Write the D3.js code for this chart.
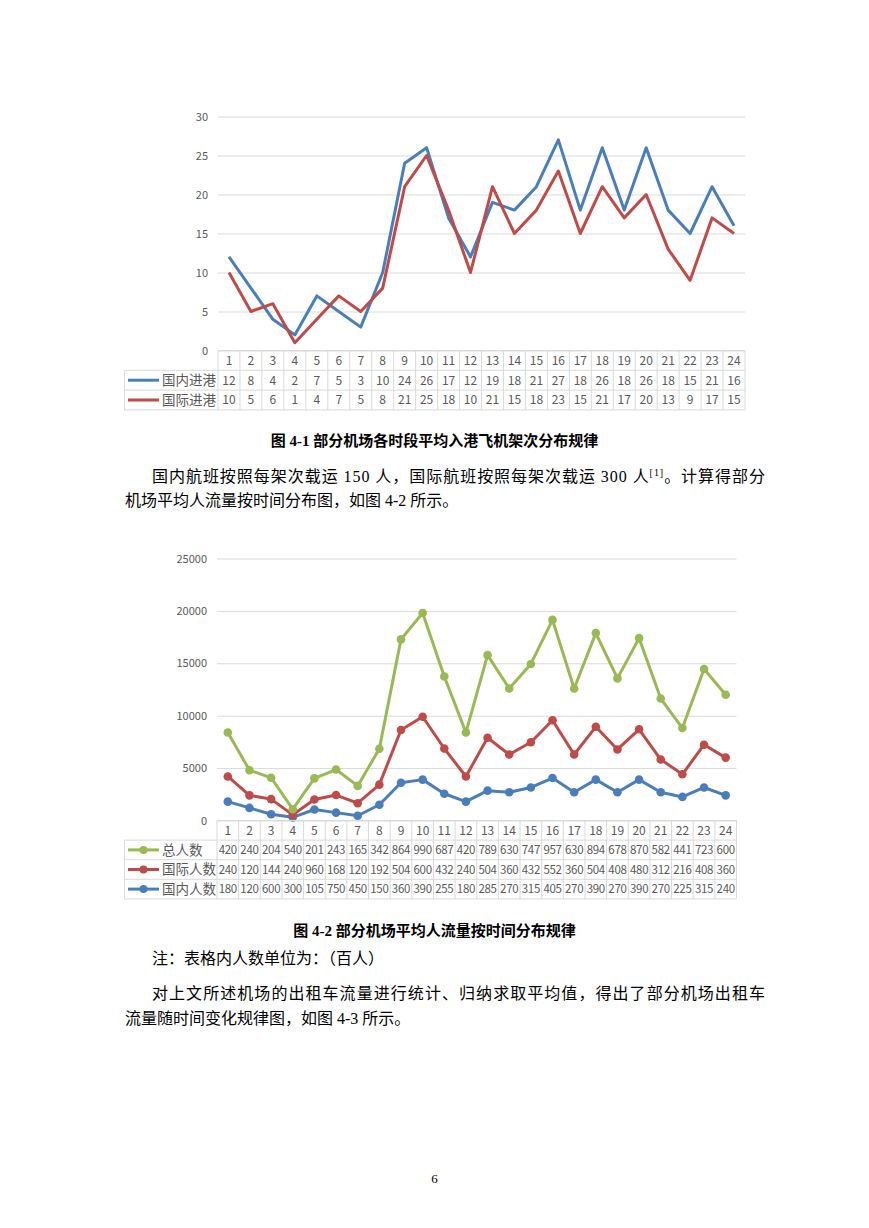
<!DOCTYPE html>
<html>
<head>
<meta charset="utf-8">
<script src="https://cdn.jsdelivr.net/npm/d3@7"></script>
<style>
  body { margin: 0; background: #fff; }
  .grid line { stroke: #d9d9d9; }
  .grid text { fill: #595959; font-size: 11px; font-family: "Noto Sans CJK SC", "Noto Sans", sans-serif; }
  .cell { fill: #595959; font-size: 12px; font-family: "Noto Sans CJK SC", "Noto Sans", sans-serif; }
  .body-text { font-size: 16px; font-family: "Liberation Serif", "Noto Sans CJK SC", serif; fill: #000; }
  .caption { font-size: 15px; font-weight: bold; font-family: "Liberation Serif", "Noto Sans CJK SC", serif; fill: #000; }
</style>
</head>
<body>
<div id="page"></div>
<script>
// hours 1..24
var hours = [1,2,3,4,5,6,7,8,9,10,11,12,13,14,15,16,17,18,19,20,21,22,23,24]

// chart 4-1: arriving flights per hour
var domesticFlights = [12,8,4,2,7,5,3,10,24,26,17,12,19,18,21,27,18,26,18,26,18,15,21,16]
var intlFlights = [10,5,6,1,4,7,5,8,21,25,18,10,21,15,18,23,15,21,17,20,13,9,17,15]
var flightTicks = [0,5,10,15,20,25,30]

// chart 4-2: passengers per hour (stacked line chart in the original)
var domesticPax = [1800,1200,600,300,1050,750,450,1500,3600,3900,2550,1800,2850,2700,3150,4050,2700,3900,2700,3900,2700,2250,3150,2400]
var intlPax = [2400,1200,1440,240,960,1680,1200,1920,5040,6000,4320,2400,5040,3600,4320,5520,3600,5040,4080,4800,3120,2160,4080,3600]
var totalPax = [4200,2400,2040,540,2010,2430,1650,3420,8640,9900,6870,4200,7890,6300,7470,9570,6300,8940,6780,8700,5820,4410,7230,6000]
var paxTicks = [0,5000,10000,15000,20000,25000]

var blue = '#4a7ebb', red = '#be4b48', green = '#98b954'
var width = 869, height = 1228

var svg = d3.select("#page")
  .append("svg")
  .attr("width", width)
  .attr("height", height)

svg.append('rect')
  .attr('width', width)
  .attr('height', height)
  .attr('fill', '#fff')

// draws gridlines + y labels, returns nothing
function drawGrid(g, x, y, ticks, fmt) {
  g.append("g")
    .attr("class", "grid")
    .attr("transform", `translate(${x.range()[0]},0)`)
    .call(d3.axisLeft(y)
      .tickValues(ticks)
      .tickSize(-(x.range()[1] - x.range()[0]))
      .tickPadding(8)
      .tickFormat(fmt))
    .call(a => a.select(".domain").remove())
    .selectAll(".tick text")
    .attr("dx", -2)
}

// Excel style data table under the plot
function drawTable(g, x, top, rowH, rows) {
  var left = 124.5, right = x.range()[1]
  var x0 = x.range()[0]
  var bottom = top + rowH * (rows.length + 1)
  var t = g.append('g').attr('class', 'table')

  // horizontal borders
  t.append('line')
    .attr('x1', x0).attr('x2', right)
    .attr('y1', top).attr('y2', top)
  for (var i = 1; i <= rows.length + 1; i++) {
    t.append('line')
      .attr('x1', left).attr('x2', right)
      .attr('y1', top + rowH * i).attr('y2', top + rowH * i)
  }
  // vertical borders
  t.append('line')
    .attr('x1', left).attr('x2', left)
    .attr('y1', top + rowH).attr('y2', bottom)
  hours.forEach(function(h) {
    t.append('line')
      .attr('x1', x(h)).attr('x2', x(h))
      .attr('y1', top).attr('y2', bottom)
  })
  t.append('line')
    .attr('x1', right).attr('x2', right)
    .attr('y1', top).attr('y2', bottom)
  t.selectAll('line')
    .style('stroke', '#d9d9d9')
    .style('stroke-width', 1)

  // header row: hours
  t.selectAll('.hdr')
    .data(hours)
    .enter()
    .append('text')
    .attr('class', 'cell hdr')
    .attr('x', d => x(d) + x.bandwidth() / 2)
    .attr('y', top + rowH / 2)
    .attr('dy', '0.36em')
    .attr('text-anchor', 'middle')
    .text(d => d)

  rows.forEach(function(r, i) {
    var cy = top + rowH * (i + 1) + rowH / 2
    // legend key
    t.append('line')
      .attr('x1', 128).attr('x2', 159)
      .attr('y1', cy).attr('y2', cy)
      .style('stroke', r.color)
      .style('stroke-width', 3)
    if (r.marker) {
      t.append('circle')
        .attr('cx', 143.5).attr('cy', cy).attr('r', 4)
        .style('fill', r.color)
    }
    t.append('text')
      .attr('class', 'cell')
      .attr('x', 162)
      .attr('y', cy)
      .attr('dy', '0.36em')
      .style('font-size', '13.5px')
      .text(r.name)

    t.selectAll('.v' + i)
      .data(r.values)
      .enter()
      .append('text')
      .attr('class', 'cell v' + i)
      .attr('x', (d, j) => x(hours[j]) + x.bandwidth() / 2)
      .attr('y', cy)
      .attr('dy', '0.36em')
      .attr('text-anchor', 'middle')
      .style('font-size', r.marker ? '11.5px' : '12px')
      .style('letter-spacing', r.marker ? '-0.3px' : '0')
      // the narrow cells of the original cut long numbers to three digits
      .text(d => String(d).slice(0, 3))
  })
}

// ---------- Chart 4-1 ----------
var c1 = svg.append('g').attr('class', 'chart-1')

var x1 = d3.scaleBand()
  .domain(hours)
  .range([218, 745])

var y1 = d3.scaleLinear()
  .domain([0, 30])
  .range([350.5, 116.5])

drawGrid(c1, x1, y1, flightTicks, d => d)

var line1 = d3.line()
  .x((d, i) => x1(hours[i]) + x1.bandwidth() / 2)
  .y(d => y1(d))

c1.append('path')
  .datum(domesticFlights)
  .attr('d', line1)
  .style('fill', 'none')
  .style('stroke', blue)
  .style('stroke-width', 3)
  .style('stroke-linejoin', 'round')

c1.append('path')
  .datum(intlFlights)
  .attr('d', line1)
  .style('fill', 'none')
  .style('stroke', red)
  .style('stroke-width', 3)
  .style('stroke-linejoin', 'round')

drawTable(c1, x1, 350.5, 19.8, [
  {name: '国内进港', values: domesticFlights, color: blue},
  {name: '国际进港', values: intlFlights, color: red}
])

// ---------- Chart 4-2 ----------
var c2 = svg.append('g').attr('class', 'chart-2')

var x2 = d3.scaleBand()
  .domain(hours)
  .range([217, 736.5])

var y2 = d3.scaleLinear()
  .domain([0, 25000])
  .range([820.5, 558.5])

drawGrid(c2, x2, y2, paxTicks, d => d)

var paxRows = hours.map((h, i) => ({hour: h, domestic: domesticPax[i], intl: intlPax[i], total: totalPax[i]}))
var stacked = d3.stack()
  .keys(['domestic', 'intl', 'total'])(paxRows)

var line2 = d3.line()
  .x(d => x2(d.data.hour) + x2.bandwidth() / 2)
  .y(d => y2(d[1]))

var colors2 = {domestic: blue, intl: red, total: green}

stacked.forEach(function(s) {
  c2.append('path')
    .datum(s)
    .attr('d', line2)
    .style('fill', 'none')
    .style('stroke', colors2[s.key])
    .style('stroke-width', 3)
    .style('stroke-linejoin', 'round')

  c2.selectAll('.dot-' + s.key)
    .data(s)
    .enter()
    .append('circle')
    .attr('class', 'dot-' + s.key)
    .attr('cx', d => x2(d.data.hour) + x2.bandwidth() / 2)
    .attr('cy', d => y2(d[1]))
    .attr('r', 4.3)
    .style('fill', colors2[s.key])
})

drawTable(c2, x2, 820.5, 19.6, [
  {name: '总人数', values: totalPax, color: green, marker: true},
  {name: '国际人数', values: intlPax, color: red, marker: true},
  {name: '国内人数', values: domesticPax, color: blue, marker: true}
])

// ---------- document text ----------
svg.append('text')
  .attr('class', 'caption')
  .attr('x', 434.5)
  .attr('y', 446)
  .attr('text-anchor', 'middle')
  .text('图 4-1  部分机场各时段平均入港飞机架次分布规律')

var p1 = svg.append('text')
  .attr('class', 'body-text')
  .attr('x', 152)
  .attr('y', 482)
  .attr('textLength', 613)
  .attr('lengthAdjust', 'spacing')
p1.append('tspan').text('国内航班按照每架次载运 150 人，国际航班按照每架次载运 300 人')
p1.append('tspan').attr('dy', -6).style('font-size', '10px').text('[1]')
p1.append('tspan').attr('dy', 6).text('。计算得部分')

svg.append('text')
  .attr('class', 'body-text')
  .attr('x', 125)
  .attr('y', 506)
  .text('机场平均人流量按时间分布图，如图 4-2 所示。')

svg.append('text')
  .attr('class', 'caption')
  .attr('x', 434.5)
  .attr('y', 936)
  .attr('text-anchor', 'middle')
  .text('图 4-2  部分机场平均人流量按时间分布规律')

svg.append('text')
  .attr('class', 'body-text')
  .attr('x', 152)
  .attr('y', 964)
  .text('注：表格内人数单位为：（百人）')

svg.append('text')
  .attr('class', 'body-text')
  .attr('x', 152)
  .attr('y', 999)
  .attr('textLength', 613)
  .attr('lengthAdjust', 'spacing')
  .text('对上文所述机场的出租车流量进行统计、归纳求取平均值，得出了部分机场出租车')

svg.append('text')
  .attr('class', 'body-text')
  .attr('x', 125)
  .attr('y', 1024)
  .text('流量随时间变化规律图，如图 4-3 所示。')

svg.append('text')
  .attr('class', 'body-text')
  .attr('x', 434.5)
  .attr('y', 1183)
  .attr('text-anchor', 'middle')
  .style('font-size', '13px')
  .text('6')
</script>
</body>
</html>
